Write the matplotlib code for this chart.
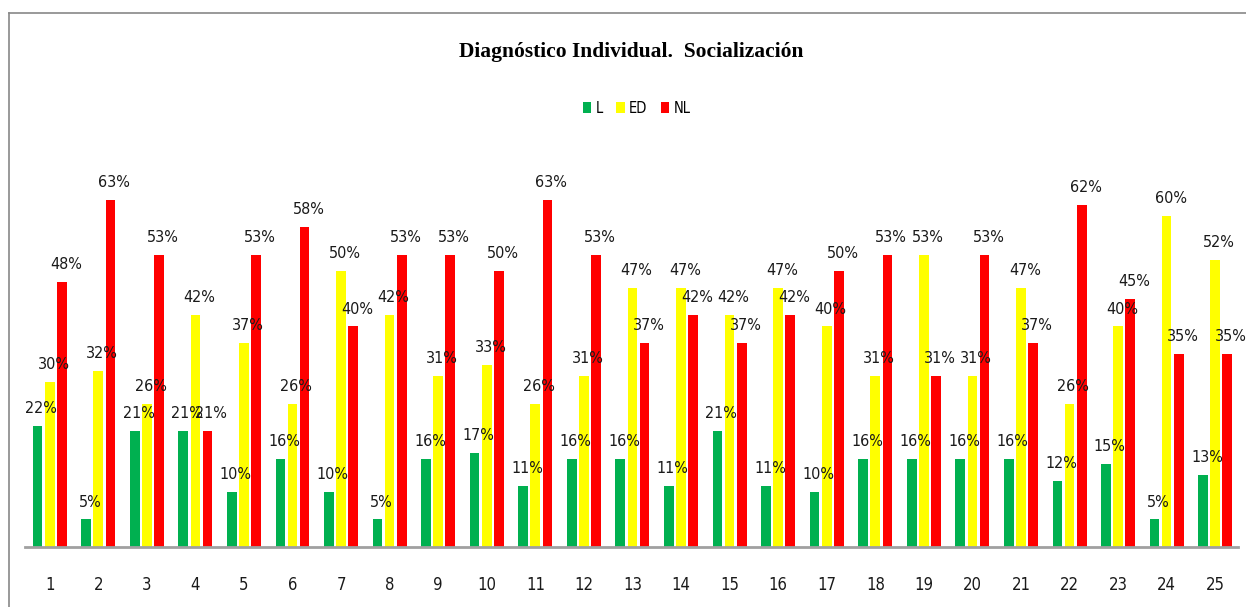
import matplotlib.pyplot as plt
import numpy as np
from matplotlib.lines import Line2D

groups = [str(i) for i in range(1, 26)]
l_vals = [22, 5, 21, 21, 10, 16, 10, 5, 16, 17, 11, 16, 16, 11, 21, 11, 10, 16, 16, 16, 16, 12, 15, 5, 13]
ed_vals = [30, 32, 26, 42, 37, 26, 50, 42, 31, 33, 26, 31, 47, 47, 42, 47, 40, 31, 53, 31, 47, 26, 40, 60, 52]
nl_vals = [48, 63, 53, 21, 53, 58, 40, 53, 53, 50, 63, 53, 37, 42, 37, 42, 50, 53, 31, 53, 37, 62, 45, 35, 35]
series = ["L", "ED", "NL"]
colors = ["#00b050", "#ffff00", "#ff0000"]

fig = plt.figure(figsize=(12.46, 6.07), dpi=100)
ax = fig.add_axes([0.02, 0.0988, 0.9736, 0.636])

x = np.arange(1, len(groups) + 1)
w = 0.2
step = 0.25
for k, (name, vals, c) in enumerate(zip(series, [l_vals, ed_vals, nl_vals], colors)):
    pos = x + (k - 1) * step
    bars = ax.bar(pos, vals, width=w, color=c, label=name)
    for b, v in zip(bars, vals):
        ax.text(b.get_x() + b.get_width() / 2 + 0.08, v + 1.8, f"{v}%",
                ha='center', va='bottom', fontsize=11.5, family='DejaVu Sans',
                fontstretch='condensed', color='#1a1a1a')

ax.set_xlim(0.49, 25.47)
ax.set_ylim(0, 70)
ax.set_xticks(x)
ax.set_xticklabels(groups, fontsize=12, family='DejaVu Sans', fontstretch='condensed', color='#1a1a1a')
ax.tick_params(axis='x', length=0, pad=21)
ax.set_yticks([])
for s in ['top', 'right', 'left']:
    ax.spines[s].set_visible(False)
ax.spines['bottom'].set_color('#a0a0a0')
ax.spines['bottom'].set_linewidth(2)

fig.text(0.507, 0.915, "Diagnóstico Individual.  Socialización", ha='center', va='center',
         fontsize=15.5, fontweight='bold', family='Liberation Serif')

fig.legend(loc='center', bbox_to_anchor=(0.511, 0.822), ncol=3, frameon=False,
           handlelength=0.6, handleheight=0.8, handletextpad=0.3, columnspacing=0.9,
           prop={'family': 'DejaVu Sans', 'stretch': 'condensed', 'size': 10.5})

# outer chart border
fig.add_artist(Line2D([0.0072, 0.0072], [0, 0.979], color='#888888', lw=1.2))
fig.add_artist(Line2D([0.0072, 1.0], [0.979, 0.979], color='#888888', lw=1.2))

fig.savefig("out.png", dpi=100)
